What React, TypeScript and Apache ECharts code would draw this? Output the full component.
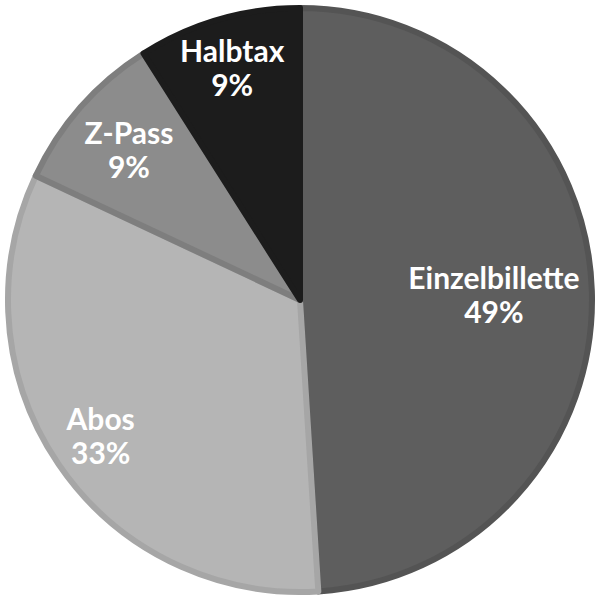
import React, { useEffect, useRef } from "react";
import * as echarts from "echarts";

// Ticket types and their share of sales
const categories = ["Einzelbillette", "Abos", "Z-Pass", "Halbtax"];
const shares = [49, 33, 9, 9];

// Slice fills and their slightly darker inner edges
const fillColors = ["#5e5e5e", "#b5b5b5", "#8c8c8c", "#1c1c1c"];
const edgeColors = ["#545454", "#a6a6a6", "#7e7e7e", "#1c1c1c"];

// Distance of each label from the pie centre, in px
const labelRadius = [191, 238, 225, 240];

const PIE_RADIUS = 292;

export default function App() {
  const ref = useRef<HTMLDivElement>(null);

  useEffect(() => {
    if (!ref.current) return;
    const chart = echarts.init(ref.current, undefined, { renderer: "svg" });

    const items = categories.map((name, i) => ({ name, value: shares[i] }));

    const labelStyle = {
      color: "#ffffff",
      fontFamily: "Lato",
      fontWeight: "bold" as const,
      fontSize: 30,
      lineHeight: 34,
      align: "center" as const,
      overflow: "none" as const,
    };

    // Invisible pies whose "inside" label position (half the radius) puts each label where it belongs
    const labelSeries = categories.map((_, k) => ({
      type: "pie" as const,
      silent: true,
      center: ["50%", "50%"],
      radius: [0, labelRadius[k] * 2],
      startAngle: 90,
      percentPrecision: 0,
      avoidLabelOverlap: false,
      emphasis: { disabled: true },
      labelLine: { show: false },
      itemStyle: { color: "transparent", borderWidth: 0 },
      label: { show: false },
      z: 5,
      data: items.map((it, i) => ({
        ...it,
        label:
          i === k
            ? { show: true, position: "inside", formatter: "{b}\n{d}%", ...labelStyle }
            : { show: false },
      })),
    }));

    chart.setOption({
      animation: false,
      backgroundColor: "#ffffff",
      series: [
        {
          type: "pie",
          center: ["50%", "50%"],
          radius: [0, PIE_RADIUS],
          startAngle: 90,
          percentPrecision: 0,
          avoidLabelOverlap: false,
          label: { show: false },
          labelLine: { show: false },
          emphasis: { disabled: true },
          data: items.map((it, i) => ({
            ...it,
            itemStyle: {
              color: fillColors[i],
              borderColor: edgeColors[i],
              borderWidth: 6,
            },
          })),
        },
        ...labelSeries,
      ],
    });

    return () => chart.dispose();
  }, []);

  return (
    <div
      ref={ref}
      style={{ position: "fixed", left: 0, top: 0, width: 600, height: 600 }}
    />
  );
}
